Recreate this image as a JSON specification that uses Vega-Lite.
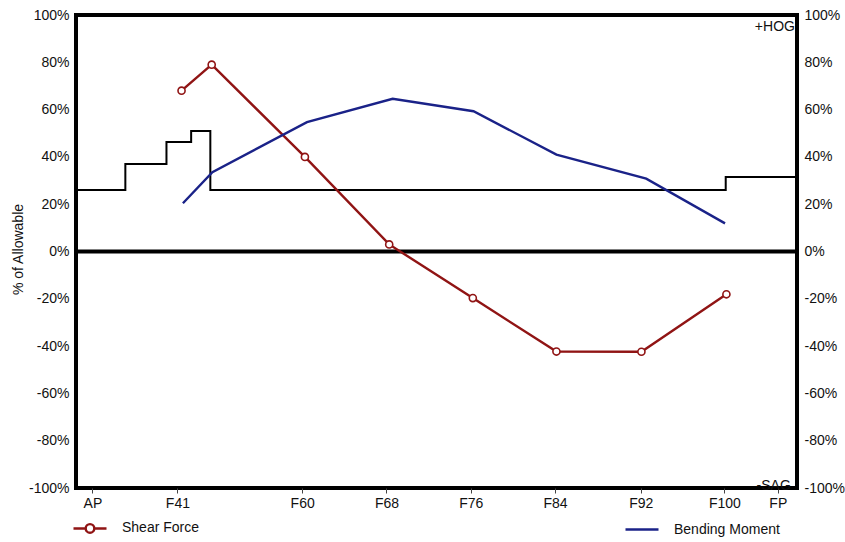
{
  "$schema": "https://vega.github.io/schema/vega-lite/v6.json",
  "width": 721,
  "height": 473,
  "autosize": {"type": "none"},
  "padding": {"left": 76, "top": 15, "right": 48, "bottom": 54},
  "background": "white",
  "config": {
    "view": {"stroke": "black", "strokeWidth": 4},
    "font": "Liberation Sans",
    "axis": {
      "labelFont": "Liberation Sans",
      "labelFontSize": 14,
      "labelColor": "#111",
      "titleFont": "Liberation Sans",
      "titleFontSize": 14,
      "titleFontWeight": "normal",
      "titleColor": "#111",
      "grid": false,
      "domain": false
    }
  },
  "datasets": {
    "limit": [
      {"pos": -2.4, "value": 26},
      {"pos": 4.8, "value": 37},
      {"pos": 10.8, "value": 46.3},
      {"pos": 14.4, "value": 51},
      {"pos": 17.2, "value": 26},
      {"pos": 92.4, "value": 31.5},
      {"pos": 102.8, "value": 31.5}
    ],
    "loads": [
      {"series": "Shear Force", "pos": 13.0, "value": 68},
      {"series": "Shear Force", "pos": 17.4, "value": 79},
      {"series": "Shear Force", "pos": 31.0, "value": 40},
      {"series": "Shear Force", "pos": 43.3, "value": 3},
      {"series": "Shear Force", "pos": 55.5, "value": -19.7},
      {"series": "Shear Force", "pos": 67.7, "value": -42.3},
      {"series": "Shear Force", "pos": 80.1, "value": -42.4},
      {"series": "Shear Force", "pos": 92.5, "value": -18.1},
      {"series": "Bending Moment", "pos": 13.2, "value": 20.4},
      {"series": "Bending Moment", "pos": 17.5, "value": 33.5},
      {"series": "Bending Moment", "pos": 31.3, "value": 54.7},
      {"series": "Bending Moment", "pos": 43.8, "value": 64.6},
      {"series": "Bending Moment", "pos": 55.6, "value": 59.3},
      {"series": "Bending Moment", "pos": 67.7, "value": 41},
      {"series": "Bending Moment", "pos": 80.8, "value": 30.8},
      {"series": "Bending Moment", "pos": 92.3, "value": 11.9}
    ],
    "notes": [
      {"label": "+HOG", "pos": 102.5, "value": 95},
      {"label": "-SAG", "pos": 101.9, "value": -99}
    ]
  },
  "encoding": {
    "x": {
      "field": "pos",
      "type": "quantitative",
      "scale": {"domain": [-2.4, 102.8], "nice": false, "zero": false},
      "axis": {
        "title": null,
        "values": [0, 12.4, 30.6, 42.9, 55.2, 67.5, 80, 92.2, 100],
        "labelExpr": "datum.value == 0 ? 'AP' : datum.value < 20 ? 'F41' : datum.value < 35 ? 'F60' : datum.value < 50 ? 'F68' : datum.value < 60 ? 'F76' : datum.value < 70 ? 'F84' : datum.value < 85 ? 'F92' : datum.value < 95 ? 'F100' : 'FP'",
        "ticks": true,
        "tickSize": 5,
        "tickColor": "#444",
        "tickWidth": 1,
        "labelPadding": 3,
        "labelFlush": false
      }
    }
  },
  "layer": [
    {
      "data": {"values": [{"value": 0}]},
      "mark": {"type": "rule", "color": "black", "strokeWidth": 4},
      "encoding": {
        "x": null,
        "y": {
          "field": "value",
          "type": "quantitative",
          "scale": {"domain": [-100, 100], "nice": false},
          "axis": {
            "orient": "right",
            "title": null,
            "values": [-100, -80, -60, -40, -20, 0, 20, 40, 60, 80, 100],
            "labelExpr": "datum.value + '%'",
            "ticks": false,
            "labelPadding": 7
          }
        }
      }
    },
    {
      "encoding": {
        "y": {
          "field": "value",
          "type": "quantitative",
          "scale": {"domain": [-100, 100], "nice": false},
          "axis": {
            "orient": "left",
            "title": "% of Allowable",
            "titleX": -58,
            "titleY": 234,
            "titleAngle": -90,
            "titleAlign": "center",
            "titleBaseline": "middle",
            "values": [-100, -80, -60, -40, -20, 0, 20, 40, 60, 80, 100],
            "labelExpr": "datum.value + '%'",
            "ticks": false,
            "labelPadding": 7
          }
        }
      },
      "layer": [
        {
          "data": {"name": "limit"},
          "mark": {"type": "line", "interpolate": "step-after", "color": "black", "strokeWidth": 2}
        },
        {
          "data": {"name": "loads"},
          "mark": {"type": "line", "strokeWidth": 2.4},
          "encoding": {
            "color": {
              "field": "series",
              "type": "nominal",
              "scale": {"domain": ["Shear Force", "Bending Moment"], "range": ["#901414", "#1a2288"]},
              "legend": {
                "orient": "none",
                "legendX": -4,
                "legendY": 495,
                "direction": "horizontal",
                "columns": 2,
                "columnPadding": 420,
                "title": null,
                "symbolSize": 1089,
                "symbolStrokeWidth": 2.4,
                "symbolFillColor": "white",
                "labelFontSize": 14,
                "labelFont": "Liberation Sans",
                "labelOffset": 14,
                "labelColor": "#111"
              }
            }
          }
        },
        {
          "data": {"name": "loads"},
          "transform": [{"filter": "datum.series == 'Shear Force'"}],
          "mark": {"type": "point", "filled": false, "fill": "white", "size": 50, "strokeWidth": 1.6, "opacity": 1},
          "encoding": {
            "color": {"field": "series", "type": "nominal"}
          }
        },
        {
          "data": {"name": "loads"},
          "transform": [{"filter": "datum.series == 'none'"}],
          "mark": {"type": "point", "filled": false, "strokeWidth": 2.4},
          "encoding": {
            "color": {"field": "series", "type": "nominal"},
            "shape": {
              "field": "series",
              "type": "nominal",
              "scale": {
                "domain": ["Shear Force", "Bending Moment"],
                "range": ["M-1,0L-0.26,0M0.26,0L1,0M-0.26,0A0.26,0.26,0,1,1,0.26,0A0.26,0.26,0,1,1,-0.26,0Z", "stroke"]
              },
              "legend": {
                "orient": "none",
                "legendX": -4,
                "legendY": 495,
                "direction": "horizontal",
                "columns": 2,
                "columnPadding": 420,
                "title": null,
                "symbolSize": 1089,
                "symbolStrokeWidth": 2.4,
                "symbolFillColor": "white",
                "labelFontSize": 14,
                "labelFont": "Liberation Sans",
                "labelOffset": 14,
                "labelColor": "#111"
              }
            }
          }
        },
        {
          "data": {"name": "notes"},
          "mark": {"type": "text", "align": "right", "baseline": "middle", "fontSize": 14, "font": "Liberation Sans", "color": "#111"},
          "encoding": {"text": {"field": "label"}}
        }
      ]
    }
  ],
  "resolve": {"scale": {"y": "independent"}}
}
